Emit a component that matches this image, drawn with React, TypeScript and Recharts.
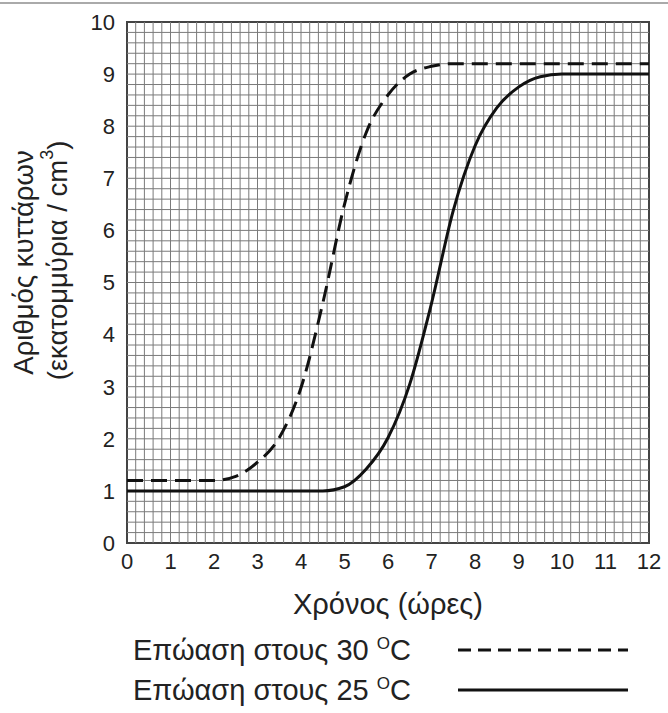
import React from "react";
import {
  LineChart,
  Line,
  XAxis,
  YAxis,
  ReferenceLine,
  ReferenceArea,
  Legend,
} from "recharts";

const FONT = "'Liberation Sans', Arial, sans-serif";
const INK = "#222";

// time in hours
const HOURS = [0, 0.5, 1, 1.5, 2, 2.5, 3, 3.5, 4, 4.5, 5, 5.5, 6, 6.5, 7, 7.5, 8, 8.5, 9, 9.5, 10, 10.5, 11, 11.5, 12];
// cells (millions / cm3) at 30 °C
const CELLS_30 = [1.2, 1.2, 1.2, 1.2, 1.2, 1.28, 1.55, 2.02, 2.98, 4.6, 6.5, 7.88, 8.6, 9.0, 9.15, 9.2, 9.2, 9.2, 9.2, 9.2, 9.2, 9.2, 9.2, 9.2, 9.2];
// cells (millions / cm3) at 25 °C
const CELLS_25 = [1.0, 1.0, 1.0, 1.0, 1.0, 1.0, 1.0, 1.0, 1.0, 1.0, 1.08, 1.42, 2.02, 3.05, 4.6, 6.38, 7.62, 8.35, 8.75, 8.95, 9.0, 9.0, 9.0, 9.0, 9.0];

const X_TICKS = [0, 1, 2, 3, 4, 5, 6, 7, 8, 9, 10, 11, 12];
const Y_TICKS = [0, 1, 2, 3, 4, 5, 6, 7, 8, 9, 10];
// fine graph-paper grid, every 0.2 units
const GRID_X = Array.from({ length: 59 }, (_, i) => (i + 1) / 5);
const GRID_Y = Array.from({ length: 49 }, (_, i) => (i + 1) / 5);

const LEGEND_LABELS = ["Επώαση στους 30", "Επώαση στους 25"];
const LEGEND_DASH = ["13 7", undefined];

const data = HOURS.map((h, i) => ({ h, t30: CELLS_30[i], t25: CELLS_25[i] }));

function YTitle({ viewBox }: any) {
  const cy = viewBox.y + viewBox.height / 2;
  return (
    <g fontFamily={FONT} fontSize={27.5} fill={INK}>
      <text
        transform={`translate(23, ${cy - 20}) rotate(-90)`}
        textAnchor="middle"
        dominantBaseline="central"
      >
        Αριθμός κυττάρων
      </text>
      <text
        transform={`translate(57, ${cy - 22}) rotate(-90)`}
        textAnchor="middle"
        dominantBaseline="central"
      >
        (εκατομμύρια / cm
        <tspan fontSize={18} baselineShift="super">3</tspan>)
      </text>
    </g>
  );
}

function LegendBox({ payload }: any) {
  return (
    <div style={{ fontFamily: FONT, fontSize: 29, color: INK }}>
      {(payload || []).map((entry: any, i: number) => (
        <div key={i} style={{ display: "flex", alignItems: "center", height: 40 }}>
          <span style={{ width: 325, whiteSpace: "nowrap" }}>
            {LEGEND_LABELS[i]} <sup style={{ fontSize: 17 }}>O</sup>C
          </span>
          <svg width={172} height={8}>
            <line
              x1={0}
              y1={4}
              x2={170}
              y2={4}
              stroke="#111"
              strokeWidth={3}
              strokeDasharray={LEGEND_DASH[i]}
            />
          </svg>
        </div>
      ))}
    </div>
  );
}

export default function App() {
  return (
    <div style={{ position: "absolute", left: 0, top: 0, width: 668, height: 713, background: "#fff" }}>
      <div style={{ position: "absolute", left: 0, top: 2, width: 668, borderTop: "2px solid #aaa" }} />
      <LineChart
        width={668}
        height={713}
        data={data}
        margin={{ top: 22, right: 19, bottom: 140, left: 87 }}
      >
        <XAxis
          type="number"
          dataKey="h"
          domain={[0, 12]}
          ticks={X_TICKS}
          interval={0}
          height={30}
          axisLine={false}
          tickLine={false}
          tickSize={0}
          tickMargin={10}
          tick={{ fill: INK, fontSize: 22, fontFamily: FONT }}
          label={{
            value: "Χρόνος (ώρες)",
            position: "bottom",
            offset: 20,
            fill: INK,
            fontSize: 29,
            fontFamily: FONT,
          }}
        />
        <YAxis
          type="number"
          domain={[0, 10]}
          ticks={Y_TICKS}
          interval={0}
          width={40}
          axisLine={false}
          tickLine={false}
          tickSize={0}
          tickMargin={12}
          tick={{ fill: INK, fontSize: 22, fontFamily: FONT }}
          label={{ content: YTitle }}
        />
        {GRID_X.map((v) => (
          <ReferenceLine key={`gx${v}`} x={v} stroke="#7a7a7a" strokeWidth={1} />
        ))}
        {GRID_Y.map((v) => (
          <ReferenceLine key={`gy${v}`} y={v} stroke="#7a7a7a" strokeWidth={1} />
        ))}
        <ReferenceArea x1={0} x2={12} y1={0} y2={10} fill="none" stroke="#444" strokeWidth={2} />
        <Line
          type="monotone"
          dataKey="t30"
          name={LEGEND_LABELS[0]}
          stroke="#111"
          strokeWidth={3}
          strokeDasharray="16 8"
          dot={false}
          activeDot={false}
          isAnimationActive={false}
        />
        <Line
          type="monotone"
          dataKey="t25"
          name={LEGEND_LABELS[1]}
          stroke="#111"
          strokeWidth={3}
          dot={false}
          activeDot={false}
          isAnimationActive={false}
        />
        <Legend
          layout="horizontal"
          verticalAlign="middle"
          align="center"
          content={LegendBox}
          wrapperStyle={{ top: 630, left: 133, width: 530, bottom: "auto", right: "auto" }}
        />
      </LineChart>
    </div>
  );
}
